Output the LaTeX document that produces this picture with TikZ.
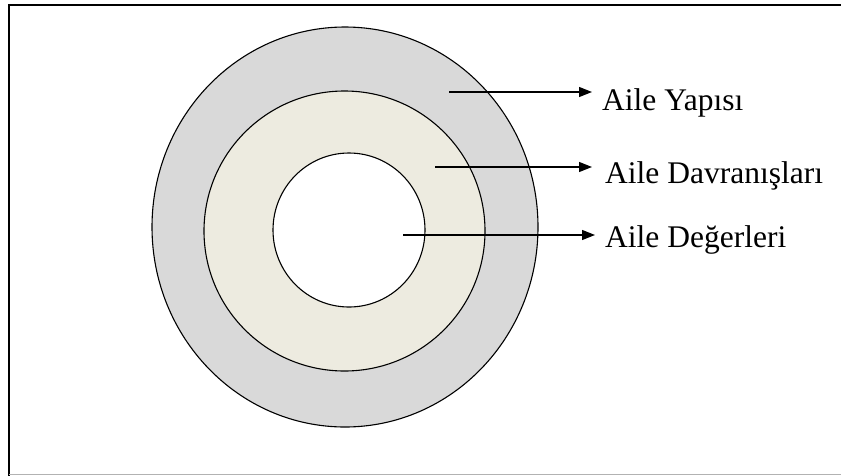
\documentclass[tikz,border=0pt]{standalone}
\usepackage{fontspec}
\setmainfont{Liberation Serif}
\usetikzlibrary{arrows.meta}

\definecolor{ringgray}{RGB}{217,217,217}
\definecolor{ringcream}{RGB}{237,235,224}

\tikzset{
	ring/.style={draw=black, line width=1.1pt},
	pointer/.style={line width=1.3pt, -{Triangle[length=13pt,width=10pt]}},
	ringlabel/.style={anchor=base west, inner sep=0pt, font=\fontsize{31.5}{36}\selectfont}
}

\begin{document}
\begin{tikzpicture}[x=1pt, y=-1pt]
	\useasboundingbox (0,0) rectangle (841,475);
	
	% frame
	\draw[line width=2pt] (9,480) -- (9,5) -- (850,5);
	\draw[line width=1pt, color=black!30] (9,474.5) -- (850,474.5);
	
	% rings, outside in
	\filldraw[ring, fill=ringgray] (345,227) ellipse (193 and 200);
	\filldraw[ring, fill=ringcream] (344.5,231) ellipse (140.5 and 140);
	\filldraw[ring, fill=white] (349,230) ellipse (76 and 77);
	
	% labels
	\node[ringlabel] (yapi) at (602,110) {Aile Yapısı};
	\node[ringlabel] (davranis) at (605,183) {Aile Davranışları};
	\node[ringlabel] (deger) at (605,247) {Aile Değerleri};
	
	\coordinate (yapistart) at (449,92);
	\coordinate (davranisstart) at (435,167);
	\coordinate (degerstart) at (403,235);
	
	\draw[pointer] (yapistart) -- ([xshift=-10pt]yapistart -| yapi.west);
	\draw[pointer] (davranisstart) -- ([xshift=-13pt]davranisstart -| davranis.west);
	\draw[pointer] (degerstart) -- ([xshift=-10pt]degerstart -| deger.west);
\end{tikzpicture}
\end{document}
